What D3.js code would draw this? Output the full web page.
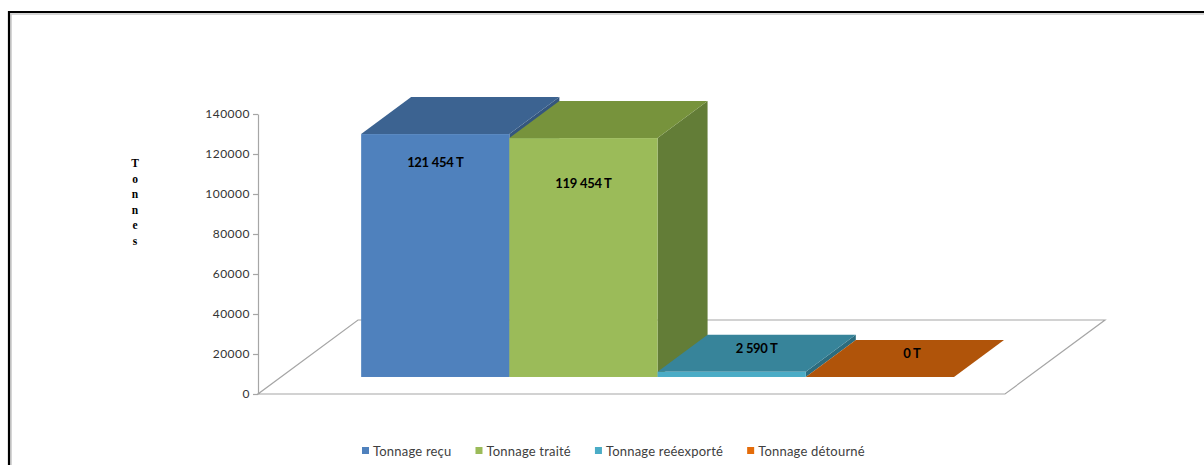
<!DOCTYPE html>
<html>
<head>
<meta charset="utf-8">
<script src="https://cdn.jsdelivr.net/npm/d3@7"></script>
<style>
	body { margin: 0; background: #fff; }
	svg { display: block; }
</style>
</head>
<body>
<svg id="chart"></svg>
<script>
// data
let categories = ["Tonnage reçu", "Tonnage traité", "Tonnage reéexporté", "Tonnage détourné"];
let tonnages = [121454, 119454, 2590, 0];
let valueLabels = ["121 454 T", "119 454 T", "2 590 T", "0 T"];
let yTicks = [0, 20000, 40000, 60000, 80000, 100000, 120000, 140000];

// colours per bar: front, top, side
let palette = [
	{"front": "#4f81bd", "top": "#3c6391", "side": "#34567e", "legend": "#4f81bd"},
	{"front": "#9bbb59", "top": "#77933c", "side": "#637d37", "legend": "#9bbb59"},
	{"front": "#4bacc6", "top": "#37849a", "side": "#2c6c7e", "legend": "#4bacc6"},
	{"front": "#f79646", "top": "#b0540a", "side": "#8f4508", "legend": "#e46c0a"}
];

let canvas = {"width": 1204, "height": 465};

// floor: front edge and depth vector
let floor = {"left": 258, "right": 1005, "y": 394, "depthX": 100, "depthY": -74};
let barDepth = {"front": 0.23, "back": 0.73};
let labelDy = [28, 45, -24, -24];
let labelDx = [0, 0, 25, 32];

const svg = d3.select("#chart")
	.attr("width", canvas.width)
	.attr("height", canvas.height);

// outer frame
svg.append("path")
	.attr("d", `M11,${canvas.height} V14 H${canvas.width}`)
	.attr("fill", "none")
	.attr("stroke", "#c8c8c8")
	.attr("stroke-width", 1.5);
svg.append("path")
	.attr("d", `M9,${canvas.height} V12 H${canvas.width}`)
	.attr("fill", "none")
	.attr("stroke", "#000")
	.attr("stroke-width", 2.2);

const xScale = d3.scaleBand()
	.domain(categories)
	.range([floor.left, floor.right])
	.paddingInner(0)
	.paddingOuter(0.52)
	.align(0.52);

const yScale = d3.scaleLinear()
	.domain([0, 140000])
	.range([floor.y, floor.y - 280]);

function depth(d) {
	return [floor.depthX * d, floor.depthY * d];
}

// floor outline
let [bx, by] = depth(1);
svg.append("polygon")
	.attr("points", [[floor.left, floor.y], [floor.right, floor.y],
		[floor.right + bx, floor.y + by], [floor.left + bx, floor.y + by]].join(" "))
	.attr("fill", "none")
	.attr("stroke", "#a6a6a6")
	.attr("stroke-width", 1.2);

// y axis
const yAxis = svg.append("g")
	.attr("transform", `translate(${floor.left},0)`)
	.call(d3.axisLeft(yScale).tickValues(yTicks).tickSize(5).tickSizeOuter(0).tickFormat(d3.format("d")));
yAxis.select(".domain").attr("stroke", "#a6a6a6").attr("stroke-width", 1.2);
yAxis.selectAll(".tick line").attr("stroke", "#a6a6a6").attr("stroke-width", 1.2);
yAxis.selectAll(".tick text")
	.attr("x", -8)
	.attr("fill", "#333")
	.attr("font-family", "Lato, 'Noto Sans', sans-serif")
	.attr("font-size", 12)
	.attr("letter-spacing", 0.5);

// bars
let [fx, fy] = depth(barDepth.front);
let [kx, ky] = depth(barDepth.back);
let bars = categories.map((c, i) => {
	let x0 = xScale(c) + fx;
	let x1 = x0 + xScale.bandwidth();
	let base = yScale(0) + fy;
	let top = yScale(tonnages[i]) + fy;
	return {"i": i, "x0": x0, "x1": x1, "base": base, "top": top};
});

bars.forEach(b => {
	let g = svg.append("g").attr("class", "bar");
	let col = palette[b.i];
	let dx = kx - fx, dy = ky - fy;
	g.append("polygon")
		.attr("points", [[b.x1, b.top], [b.x1 + dx, b.top + dy], [b.x1 + dx, b.base + dy], [b.x1, b.base]].join(" "))
		.attr("fill", col.side);
	g.append("polygon")
		.attr("points", [[b.x0, b.top], [b.x1, b.top], [b.x1 + dx, b.top + dy], [b.x0 + dx, b.top + dy]].join(" "))
		.attr("fill", col.top);
	if (b.base - b.top > 0) {
		g.append("rect")
			.attr("x", b.x0)
			.attr("y", b.top)
			.attr("width", b.x1 - b.x0)
			.attr("height", b.base - b.top)
			.attr("fill", col.front);
	}
});

svg.selectAll(".value")
	.data(bars)
	.join("text")
	.attr("class", "value")
	.text(d => valueLabels[d.i])
	.attr("x", d => (d.x0 + d.x1) / 2 + labelDx[d.i])
	.attr("y", d => d.top + labelDy[d.i])
	.attr("text-anchor", "middle")
	.attr("dominant-baseline", "central")
	.attr("font-family", "Lato, 'Noto Sans', sans-serif")
	.attr("font-weight", "bold")
	.attr("font-size", 13)
	.attr("letter-spacing", -0.3)
	.attr("fill", "#000");

// vertical axis title
svg.append("text")
	.attr("font-family", "'Liberation Serif', serif")
	.attr("font-weight", "bold")
	.attr("font-size", 11.5)
	.attr("fill", "#000")
	.attr("text-anchor", "middle")
	.selectAll("tspan")
	.data("Tonnes".split(""))
	.join("tspan")
	.attr("x", 135)
	.attr("y", (d, i) => 167 + i * 15.5)
	.text(d => d);

// legend, laid out one after the other
const legend = svg.selectAll(".legend")
	.data(categories)
	.join("g")
	.attr("class", "legend");
legend.append("rect")
	.attr("x", 0)
	.attr("y", -4)
	.attr("width", 7)
	.attr("height", 7)
	.attr("fill", (d, i) => palette[i].legend);
legend.append("text")
	.text(d => d)
	.attr("x", 11)
	.attr("y", 0)
	.attr("dominant-baseline", "central")
	.attr("font-family", "Lato, 'Noto Sans', sans-serif")
	.attr("font-size", 13)
	.attr("letter-spacing", 0.2)
	.attr("fill", "#404040");

let lx = 362;
legend.each(function() {
	d3.select(this).attr("transform", `translate(${lx},451)`);
	lx += 11 + d3.select(this).select("text").node().getComputedTextLength() + 24;
});
</script>
</body>
</html>
